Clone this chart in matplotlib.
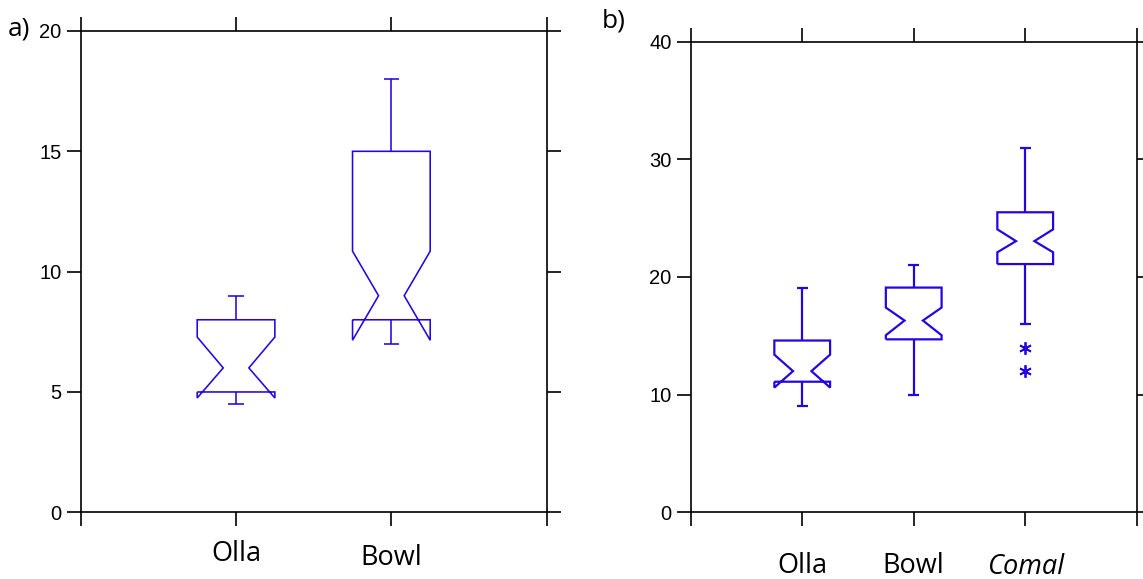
import matplotlib.pyplot as plt
from matplotlib import transforms

# panel a) summary stats per vessel type
a_labels = ["Olla", "Bowl"]
a_q1 = [5.0, 8.0]
a_med = [6.0, 9.0]
a_q3 = [8.0, 15.0]
a_lo = [4.5, 7.0]
a_hi = [9.0, 18.0]
a_ci_lo = [4.75, 7.15]
a_ci_hi = [7.28, 10.85]
a_ticks = [0, 5, 10, 15, 20]

# panel b)
b_labels = ["Olla", "Bowl", "Comal"]
b_q1 = [11.1, 14.7, 21.1]
b_med = [12.0, 16.3, 23.05]
b_q3 = [14.6, 19.1, 25.5]
b_lo = [9.0, 10.0, 16.0]
b_hi = [19.1, 21.0, 31.0]
b_ci_lo = [10.6, 15.05, 22.1]
b_ci_hi = [13.4, 17.4, 24.05]
b_out = [[], [], [14.0, 12.0]]
b_ticks = [0, 10, 20, 30, 40]

BLUE = "#2505e0"
HW = 0.25        # box half width
NOTCH = 0.33     # notch depth as fraction of half width
CAP = 0.05


def notched_box(ax, x, q1, med, q3, lo, hi, ci_lo, ci_hi, lw):
    nw = HW * NOTCH
    xs = [x - HW, x + HW, x + HW, x + nw, x + HW, x + HW,
          x - HW, x - HW, x - nw, x - HW, x - HW]
    ys = [q1, q1, ci_lo, med, ci_hi, q3, q3, ci_hi, med, ci_lo, q1]
    kw = dict(color=BLUE, lw=lw, solid_joinstyle="miter", solid_capstyle="butt")
    ax.plot(xs, ys, **kw)
    ax.plot([x, x], [q3, hi], **kw)
    ax.plot([x, x], [q1, lo], **kw)
    ax.plot([x - CAP, x + CAP], [hi, hi], **kw)
    ax.plot([x - CAP, x + CAP], [lo, lo], **kw)


def style_axes(ax, n, yticks):
    ax.set_xlim(0, n + 1)
    ax.set_ylim(yticks[0], yticks[-1])
    ax.set_xticks(range(n + 2))
    ax.set_xticklabels([])
    ax.set_yticks(yticks)
    ax.set_yticklabels([str(t) for t in yticks], family="Liberation Sans",
                       fontsize=14.5)
    ax.tick_params(direction="out", length=9.9, width=1.2, pad=4.0,
                   top=True, right=True, labeltop=False, labelright=False)
    for s in ax.spines.values():
        s.set_linewidth(1.2)


def category_labels(ax, labels, offsets, italic=()):
    trans = transforms.blended_transform_factory(ax.transData, ax.transAxes)
    for i, name in enumerate(labels):
        ax.annotate(name, xy=(i + 1, 0), xycoords=trans,
                    xytext=(0, -offsets[i]), textcoords="offset points",
                    ha="center", va="baseline", fontsize=19.5,
                    family=["Open Sans", "DejaVu Sans"],
                    style="italic" if name in italic else "normal",
                    annotation_clip=False)


fig = plt.figure(figsize=(11.43, 5.79), dpi=100)

ax1 = fig.add_axes([0.0706, 0.1152, 0.4077, 0.8313])
for i in range(len(a_labels)):
    notched_box(ax1, i + 1, a_q1[i], a_med[i], a_q3[i], a_lo[i], a_hi[i],
                a_ci_lo[i], a_ci_hi[i], lw=1.15)
style_axes(ax1, len(a_labels), a_ticks)
category_labels(ax1, a_labels, [35, 38])

ax2 = fig.add_axes([0.6043, 0.1152, 0.3902, 0.8128])
for i in range(len(b_labels)):
    notched_box(ax2, i + 1, b_q1[i], b_med[i], b_q3[i], b_lo[i], b_hi[i],
                b_ci_lo[i], b_ci_hi[i], lw=1.6)
    if b_out[i]:
        ax2.plot([i + 1] * len(b_out[i]), b_out[i], ls="none",
                 marker=(6, 2, 0), ms=9, mew=1.3, color=BLUE)
style_axes(ax2, len(b_labels), b_ticks)
category_labels(ax2, b_labels, [44, 44, 44.5], italic=("Comal",))

fig.text(8 / 1143, 1 - 35 / 579, "a)", fontsize=19, va="baseline",
         family=["Open Sans", "DejaVu Sans"])
fig.text(602 / 1143, 1 - 28 / 579, "b)", fontsize=19, va="baseline",
         family=["Open Sans", "DejaVu Sans"])

fig.savefig("out.png", dpi=100)
